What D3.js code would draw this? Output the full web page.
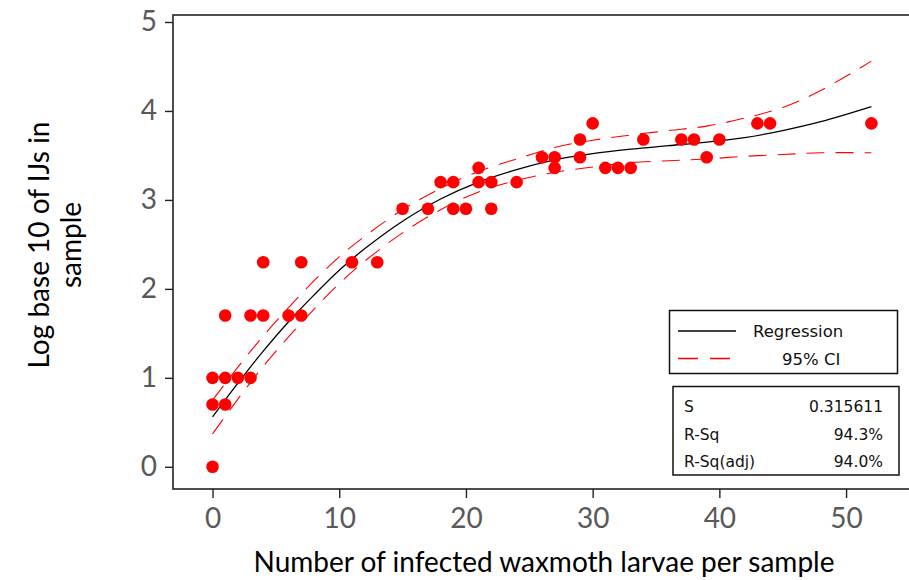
<!DOCTYPE html>
<html><head><meta charset="utf-8">
<script src="https://cdn.jsdelivr.net/npm/d3@7"></script>
<style>body{margin:0;background:#fff}svg{display:block}</style>
</head><body>
<svg id="c" width="909" height="580"></svg>
<script>
// ---- data ----
const larvae = [0,0,0,1,1,1,2,3,3,4,4,6,7,7,11,13,15,17,18,19,19,20,21,21,22,22,24,26,27,27,29,29,30,31,32,33,34,37,38,39,40,43,44,52];
const logIJs = [0,0.70,1,0.70,1,1.70,1,1,1.70,1.70,2.30,1.70,1.70,2.30,2.30,2.30,2.90,2.90,3.20,3.20,2.90,2.90,3.36,3.20,3.20,2.90,3.20,3.48,3.48,3.36,3.68,3.48,3.86,3.36,3.36,3.36,3.68,3.68,3.68,3.48,3.68,3.86,3.86,3.86];
// regression curve and 95% CI
const curveX = [0,2,4,6,8,10,12,15,18,21,24,27,30,33,36,39,42,45,48,52];
const fitY   = [0.56,0.94,1.30,1.63,1.93,2.21,2.45,2.76,3.01,3.20,3.34,3.45,3.52,3.57,3.61,3.65,3.70,3.78,3.88,4.05];
const upperY = [0.75,1.12,1.47,1.79,2.09,2.36,2.59,2.89,3.13,3.32,3.46,3.59,3.67,3.73,3.78,3.83,3.92,4.04,4.23,4.56];
const lowerY = [0.37,0.76,1.13,1.46,1.77,2.06,2.31,2.63,2.89,3.09,3.22,3.31,3.37,3.42,3.44,3.46,3.49,3.51,3.53,3.53];
const xTicks = [0,10,20,30,40,50];
const yTicks = [0,1,2,3,4,5];
const legendLabels = ["Regression","95% CI"];
const statNames = ["S","R-Sq","R-Sq(adj)"];
const statValues = ["0.315611","94.3%","94.0%"];
const xTitle = "Number of infected waxmoth larvae per sample";
const yTitle = ["Log base 10 of IJs in","sample"];

// ---- drawing ----
const svg = d3.select("#c");
const L=173,R=915,T=15,B=489;
const x = d3.scaleLinear().domain([-3.12,55.44]).range([L,R]);
const y = d3.scaleLinear().domain([-0.2496,5.0787]).range([B,T]);
const font = "Lato, 'Open Sans', sans-serif";

const plot = svg.append("g");
const line = d3.line().x(d=>x(d[0])).y(d=>y(d[1])).curve(d3.curveCatmullRom.alpha(0.5));
const series = arr => curveX.map((v,i)=>[v,arr[i]]);
[upperY, lowerY].forEach(arr=>{
  plot.append("path").attr("d",line(series(arr)))
    .attr("fill","none").attr("stroke","#ff0000").attr("stroke-width",1.1).attr("stroke-dasharray","18,11");
});
plot.append("path").attr("d",line(series(fitY)))
  .attr("fill","none").attr("stroke","#000").attr("stroke-width",1.3);
plot.selectAll("circle").data(larvae).join("circle")
  .attr("cx",d=>x(d)).attr("cy",(d,i)=>y(logIJs[i])).attr("r",6.3).attr("fill","#ff0000");

// frame
svg.append("rect").attr("x",L).attr("y",T).attr("width",R-L).attr("height",B-T)
  .attr("fill","none").attr("stroke","#222").attr("stroke-width",1.6);

// axes
const xa = svg.append("g").attr("transform",`translate(0,${B})`)
  .call(d3.axisBottom(x).tickValues(xTicks).tickSize(9).tickPadding(10).tickFormat(d3.format("d")));
xa.select(".domain").remove();
xa.selectAll("line").attr("stroke","#222").attr("stroke-width",1.4);
xa.selectAll("text").attr("font-family",font).attr("font-size",28).attr("fill","#595959");
const ya = svg.append("g").attr("transform",`translate(${L},0)`)
  .call(d3.axisLeft(y).tickValues(yTicks).tickSize(8).tickPadding(8).tickFormat(d3.format("d")));
ya.select(".domain").remove();
ya.selectAll("line").attr("stroke","#222").attr("stroke-width",1.4);
ya.selectAll("text").attr("font-family",font).attr("font-size",28).attr("fill","#595959");

// titles
svg.append("text").attr("x",(L+R)/2).attr("y",572).attr("text-anchor","middle")
  .attr("font-family",font).attr("font-size",28).attr("fill","#000").text(xTitle);
yTitle.forEach((t,i)=>{
  svg.append("text").attr("transform",`translate(${49+i*32},245) rotate(-90)`).attr("text-anchor","middle")
    .attr("font-family",font).attr("font-size",28).attr("fill","#000").text(t);
});

// legend
const lf = "'DejaVu Sans', Verdana, sans-serif";
const lg = svg.append("g");
lg.append("rect").attr("x",669.5).attr("y",310.5).attr("width",228).attr("height",63)
  .attr("fill","#fff").attr("stroke","#111").attr("stroke-width",1.5);
lg.append("line").attr("x1",678).attr("x2",736).attr("y1",331).attr("y2",331).attr("stroke","#000").attr("stroke-width",1.3);
lg.append("line").attr("x1",678).attr("x2",732).attr("y1",358.5).attr("y2",358.5).attr("stroke","#ff0000").attr("stroke-width",1.6).attr("stroke-dasharray","20,12");
lg.append("text").attr("x",753).attr("y",331).attr("dy","0.35em").attr("font-family",lf).attr("font-size",16.5).attr("fill","#111").text(legendLabels[0]);
lg.append("text").attr("x",782).attr("y",359).attr("dy","0.35em").attr("font-family",lf).attr("font-size",16.5).attr("fill","#111").text(legendLabels[1]);

const sg = svg.append("g");
sg.append("rect").attr("x",673).attr("y",386.5).attr("width",226).attr("height",88.5)
  .attr("fill","#fff").attr("stroke","#111").attr("stroke-width",1.5);
const rowY=[407,435,462];
statNames.forEach((t,i)=>{
  sg.append("text").attr("x",684).attr("y",rowY[i]).attr("dy","0.35em").attr("font-family",lf).attr("font-size",15.5).attr("fill","#111").text(t);
  sg.append("text").attr("x",883).attr("y",rowY[i]).attr("dy","0.35em").attr("text-anchor","end").attr("font-family",lf).attr("font-size",15.5).attr("fill","#111").text(statValues[i]);
});
</script>
</body></html>
